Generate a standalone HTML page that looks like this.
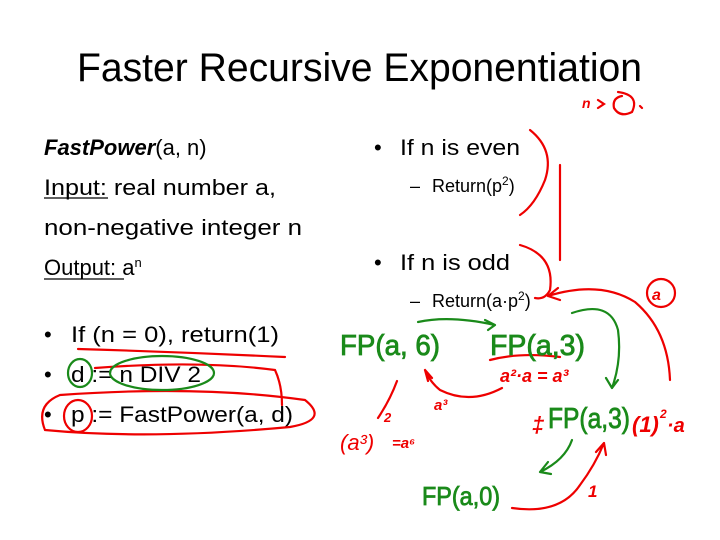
<!DOCTYPE html>
<html><head><style>body{margin:0;background:#fff}</style></head><body>
<svg width="720" height="540" xmlns="http://www.w3.org/2000/svg" style="display:block;font-family:'Liberation Sans',sans-serif">
<rect width="720" height="540" fill="#fff"/>
<text x="77" y="81" font-size="40" textLength="565" lengthAdjust="spacingAndGlyphs">Faster Recursive Exponentiation</text>
<g font-size="22" fill="#000">
<text x="44" y="155"><tspan font-weight="bold" font-style="italic">FastPower</tspan>(a, n)</text>
<text x="44" y="195" textLength="232" lengthAdjust="spacingAndGlyphs">Input: real number a,</text>
<line x1="44" y1="198" x2="108" y2="198" stroke="#000" stroke-width="1.2"/>
<text x="44" y="235" textLength="258" lengthAdjust="spacingAndGlyphs">non-negative integer  n</text>
<text x="44" y="275">Output: a<tspan font-size="13" dy="-8">n</tspan></text>
<line x1="44" y1="279" x2="124" y2="279" stroke="#000" stroke-width="1.2"/>
<text x="44" y="342">•</text><text x="71" y="342" textLength="208" lengthAdjust="spacingAndGlyphs">If (n = 0), return(1)</text>
<text x="44" y="382">•</text><text x="71" y="382" textLength="130" lengthAdjust="spacingAndGlyphs">d := n DIV 2</text>
<text x="44" y="422">•</text><text x="71" y="422" textLength="222" lengthAdjust="spacingAndGlyphs">p := FastPower(a, d)</text>
<text x="374" y="155">•</text><text x="400" y="155" textLength="120" lengthAdjust="spacingAndGlyphs">If n is even</text>
<text x="374" y="270">•</text><text x="400" y="270" textLength="110" lengthAdjust="spacingAndGlyphs">If n is odd</text>
</g>
<g font-size="18">
<text x="410" y="192">–</text><text x="432" y="192">Return(p<tspan font-size="12" dy="-7">2</tspan><tspan dy="7">)</tspan></text>
<text x="410" y="307">–</text><text x="432" y="307">Return(a·p<tspan font-size="12" dy="-7">2</tspan><tspan dy="7">)</tspan></text>
</g>
<g fill="none" stroke="#e00" stroke-width="2.2" stroke-linecap="round">
<path d="M78 349 Q180 352 285 357"/>
<path d="M95 368 Q200 360 275 370 Q282 385 282 405"/>
<path d="M60 395 Q200 385 305 400 Q330 420 290 427 Q150 440 45 430 Q35 405 60 395"/>
<ellipse cx="78" cy="416" rx="14" ry="16"/>
<path d="M530 130 Q555 150 545 180 Q535 205 520 215"/>
<path d="M520 245 Q555 255 550 290 Q545 300 535 298"/>
<path d="M560 165 L560 260"/>
<path d="M598 100 L604 104 L598 108 M618 92 Q640 95 632 112 Q620 118 614 108 Q612 98 622 96 M640 106 L642 108"/>
<path d="M490 360 Q520 352 560 357"/>
<path d="M502 388 Q470 405 440 390 Q430 382 425 370 M425 370 L432 378 M425 370 L428 381"/>
<path d="M397 381 Q390 400 378 418"/>
<path d="M548 296 Q600 280 635 302 Q668 330 670 380 M548 296 L558 288 M548 296 L560 300"/>
<circle cx="661" cy="293" r="14"/>
<path d="M512 508 Q560 515 580 485 Q595 465 604 443 M604 443 L596 452 M604 443 L606 455"/>
</g>
<g fill="#e00" font-style="italic" font-weight="bold">
<text x="500" y="382" font-size="18">a²·a = a³</text>
<text x="434" y="410" font-size="15">a³</text>
<text x="340" y="450" font-size="22" font-weight="normal">(a³)</text>
<text x="384" y="422" font-size="13">2</text>
<text x="392" y="448" font-size="15">=a⁶</text>
<text x="532" y="432" font-size="22">‡</text>
<text x="632" y="432" font-size="22">(1)</text>
<text x="660" y="418" font-size="12">2</text>
<text x="667" y="432" font-size="20">·a</text>
<text x="588" y="497" font-size="17">1</text>
<text x="652" y="300" font-size="16">a</text>
<text x="582" y="108" font-size="14">n</text>
</g>
<g fill="none" stroke="#1a8a1a" stroke-width="2.2" stroke-linecap="round">
<path d="M418 322 Q450 315 495 325 M495 325 L485 320 M495 325 L488 330"/>
<path d="M572 313 Q610 300 618 330 Q622 360 612 388 M612 388 L606 378 M612 388 L618 380"/>
<path d="M572 440 Q565 460 540 472 M540 472 L548 462 M540 472 L551 474"/>
<ellipse cx="80" cy="373" rx="12" ry="14"/>
<ellipse cx="162" cy="373" rx="52" ry="17"/>
</g>
<g fill="#1a8a1a" font-size="29" stroke="#1a8a1a" stroke-width="0.8">
<text x="340" y="355" textLength="100" lengthAdjust="spacingAndGlyphs">FP(a, 6)</text>
<text x="490" y="355" textLength="95" lengthAdjust="spacingAndGlyphs">FP(a,3)</text>
<text x="548" y="428" textLength="82" lengthAdjust="spacingAndGlyphs">FP(a,3)</text>
<text x="422" y="505" font-size="26" textLength="78" lengthAdjust="spacingAndGlyphs">FP(a,0)</text>
</g>
</svg>
</body></html>
